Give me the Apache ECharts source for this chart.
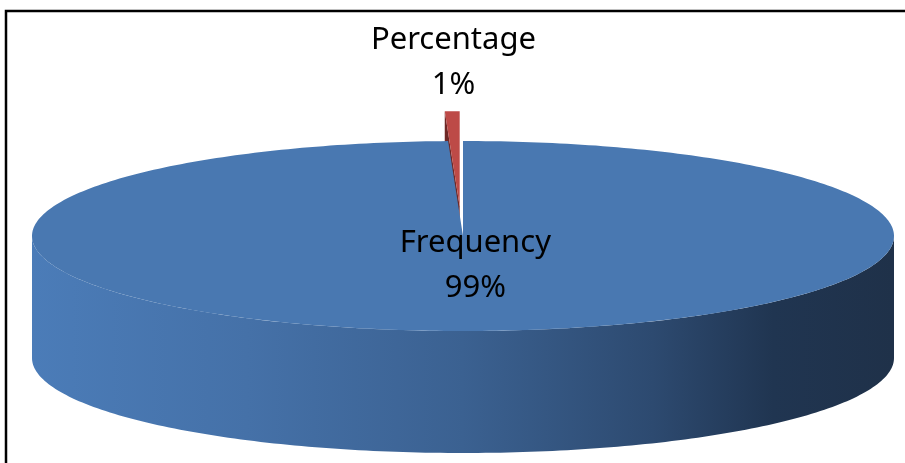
<!DOCTYPE html>
<html>
<head>
<meta charset="utf-8">
<script src="https://cdn.jsdelivr.net/npm/echarts@6/dist/echarts.min.js"></script>
<style>
  html, body { margin: 0; padding: 0; background: #fff; }
  #chart { width: 905px; height: 463px; }
</style>
</head>
<body>
<div id="chart"></div>
<script>
const sliceNames = ['Frequency', 'Percentage'];
const sliceValues = [99.45, 0.55];
const explodedSlice = 'Percentage';

const total = sliceValues.reduce((a, b) => a + b, 0);
const percents = sliceValues.map((v) => Math.round((v / total) * 100));

// 3D pie geometry (px)
const cx = 463, cy = 236, rx = 431, ry = 95, depth = 122;
const explodeDist = 135;

const topColors = { Frequency: '#4978b1', Percentage: '#bd4a47' };
const sideDark = { Percentage: '#6f2826' };

function arcPoints(a0, a1, ox, oy, dz) {
  const n = Math.max(2, Math.ceil(((a1 - a0) / (2 * Math.PI)) * 360));
  const pts = [];
  for (let k = 0; k <= n; k++) {
    const a = a0 + ((a1 - a0) * k) / n;
    pts.push([cx + ox + rx * Math.sin(a), cy + oy - ry * Math.cos(a) + dz]);
  }
  return pts;
}

function renderSlice(params, api) {
  const i = params.dataIndex;
  const name = sliceNames[i];
  let before = 0;
  for (let j = 0; j < i; j++) before += sliceValues[j];
  const a0 = (before / total) * 2 * Math.PI;
  const a1 = ((before + api.value(0)) / total) * 2 * Math.PI;
  const mid = (a0 + a1) / 2;

  const e = name === explodedSlice ? explodeDist : 0;
  const ox = e * Math.sin(mid) - (e ? 1 : 0);
  const oy = -e * Math.cos(mid) * (ry / rx);
  const baseZ = name === explodedSlice ? 1 : 10;
  const children = [];

  // radial faces
  const radial = (a) => {
    const c = [cx + ox, cy + oy];
    const p = [cx + ox + rx * Math.sin(a), cy + oy - ry * Math.cos(a)];
    return [c, p, [p[0], p[1] + depth], [c[0], c[1] + depth]];
  };
  if (Math.sin(a0) < -1e-6) {
    children.push({
      type: 'polygon', z2: baseZ,
      shape: { points: radial(a0) },
      style: { fill: sideDark[name] || '#2c4a70' }
    });
  }
  if (Math.sin(a1) > 1e-6) {
    children.push({
      type: 'polygon', z2: baseZ,
      shape: { points: radial(a1) },
      style: { fill: sideDark[name] || '#2c4a70' }
    });
  }

  // front outer wall
  const s = Math.max(a0, Math.PI / 2);
  const t = Math.min(a1, (3 * Math.PI) / 2);
  if (t > s) {
    const topArc = arcPoints(s, t, ox, oy, 0);
    const botArc = arcPoints(s, t, ox, oy, depth).reverse();
    const fill = name === explodedSlice
      ? sideDark[name]
      : new echarts.graphic.LinearGradient(cx - rx, 0, cx + rx, 0, [
          { offset: 0, color: '#4b7cb8' },
          { offset: 0.25, color: '#4571a8' },
          { offset: 0.5, color: '#3b6191' },
          { offset: 0.72, color: '#2d4a70' },
          { offset: 0.86, color: '#203551' },
          { offset: 1, color: '#1f3149' }
        ], true);
    children.push({
      type: 'polygon', z2: baseZ + 1,
      shape: { points: topArc.concat(botArc) },
      style: { fill: fill }
    });
  }

  // top face
  const topPts = [[cx + ox, cy + oy]].concat(arcPoints(a0, a1, ox, oy, 0));
  children.push({
    type: 'polygon', z2: baseZ + 2,
    shape: { points: topPts },
    style: { fill: topColors[name] }
  });

  // label
  const inside = name !== explodedSlice;
  const r = inside ? 0.31 : 1.82;
  children.push({
    type: 'text', z2: 30,
    x: cx + rx * r * Math.sin(mid) + (inside ? 10 : 4),
    y: cy - ry * r * Math.cos(mid),
    style: {
      text: name + '\n' + percents[i] + '%',
      fill: '#000',
      font: '31px "Noto Sans"',
      lineHeight: 45,
      align: 'center',
      verticalAlign: 'middle'
    }
  });

  return { type: 'group', children: children };
}

const chart = echarts.init(document.getElementById('chart'));
chart.setOption({
  animation: false,
  graphic: [
    {
      type: 'rect',
      shape: { x: 6, y: 11, width: 1200, height: 1000 },
      style: { fill: 'none', stroke: '#000', lineWidth: 2.5 },
      silent: true
    }
  ],
  series: [
    {
      type: 'custom',
      coordinateSystem: 'none',
      renderItem: renderSlice,
      data: sliceValues.map((v, i) => ({ value: v, name: sliceNames[i] }))
    }
  ]
});
</script>
</body>
</html>
